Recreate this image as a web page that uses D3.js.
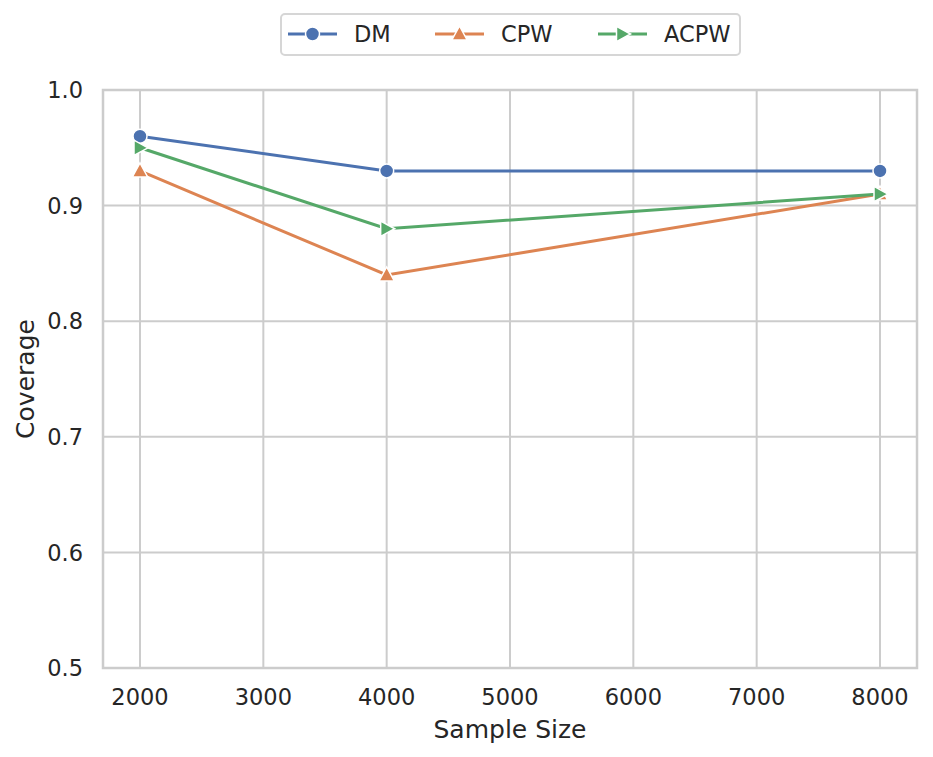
<!DOCTYPE html>
<html>
<head>
<meta charset="utf-8">
<script src="https://cdn.jsdelivr.net/npm/d3@7"></script>
<style>
  body { margin: 0; background: #fff; }
  svg { font-family: "DejaVu Sans", sans-serif; }
</style>
</head>
<body>
<svg width="933" height="757"></svg>
<script>
// data
const sampleSizes = [2000, 4000, 8000];
const dmValues = [0.96, 0.93, 0.93];
const cpwValues = [0.93, 0.84, 0.91];
const acpwValues = [0.95, 0.88, 0.91];
const xTicks = [2000, 3000, 4000, 5000, 6000, 7000, 8000];
const yTicks = [0.5, 0.6, 0.7, 0.8, 0.9, 1.0];

const series = [
  { name: 'DM', values: dmValues, color: '#4c72b0', marker: 'circle' },
  { name: 'CPW', values: cpwValues, color: '#dd8452', marker: 'up' },
  { name: 'ACPW', values: acpwValues, color: '#55a868', marker: 'right' }
];

const svg = d3.select('svg');
const margin = { top: 90, right: 16, bottom: 89, left: 103 };
const width = 933 - margin.left - margin.right;
const height = 757 - margin.top - margin.bottom;

const x = d3.scaleLinear().domain([1700, 8300]).range([0, width]);
const y = d3.scaleLinear().domain([0.5, 1.0]).range([height, 0]);

const g = svg.append('g').attr('transform', `translate(${margin.left},${margin.top})`);

// grid
g.selectAll('.gx').data(xTicks).enter().append('line')
  .attr('x1', d => x(d)).attr('x2', d => x(d))
  .attr('y1', 0).attr('y2', height)
  .attr('stroke', '#cccccc').attr('stroke-width', 2);
g.selectAll('.gy').data(yTicks).enter().append('line')
  .attr('x1', 0).attr('x2', width)
  .attr('y1', d => y(d)).attr('y2', d => y(d))
  .attr('stroke', '#cccccc').attr('stroke-width', 2);

// frame
g.append('rect').attr('width', width).attr('height', height)
  .attr('fill', 'none').attr('stroke', '#cccccc').attr('stroke-width', 2.5);

// tick labels
g.selectAll('.tx').data(xTicks).enter().append('text')
  .attr('x', d => x(d)).attr('y', height + 37)
  .attr('text-anchor', 'middle').attr('font-size', 22.5).attr('fill', '#262626')
  .text(d => d);
g.selectAll('.ty').data(yTicks).enter().append('text')
  .attr('x', -20).attr('y', d => y(d)).attr('dy', '0.36em')
  .attr('text-anchor', 'end').attr('font-size', 22.5).attr('fill', '#262626')
  .text(d => d.toFixed(1));

// axis labels
svg.append('text')
  .attr('x', margin.left + width / 2).attr('y', 738)
  .attr('text-anchor', 'middle').attr('font-size', 25).attr('fill', '#262626')
  .text('Sample Size');
svg.append('text')
  .attr('transform', `translate(34,${margin.top + height / 2}) rotate(-90)`)
  .attr('text-anchor', 'middle').attr('font-size', 25).attr('fill', '#262626')
  .text('Coverage');

function drawMarker(sel, type, color, cx, cy) {
  if (type === 'circle') {
    sel.append('circle').attr('cx', cx).attr('cy', cy).attr('r', 7)
      .attr('fill', color).attr('stroke', '#fff').attr('stroke-width', 1.5);
  } else {
    const s = 8;
    const pts = type === 'up'
      ? [[0, -s], [s * 0.95, s * 0.75], [-s * 0.95, s * 0.75]]
      : [[s, 0], [-s * 0.75, -s * 0.95], [-s * 0.75, s * 0.95]];
    sel.append('polygon')
      .attr('points', pts.map(p => [cx + p[0], cy + p[1]].join(',')).join(' '))
      .attr('fill', color).attr('stroke', '#fff').attr('stroke-width', 1.5);
  }
}

const line = d3.line().x((d, i) => x(sampleSizes[i])).y(d => y(d));

series.forEach(s => {
  g.append('path').datum(s.values)
    .attr('d', line).attr('fill', 'none')
    .attr('stroke', s.color).attr('stroke-width', 3);
});
series.forEach(s => {
  s.values.forEach((v, i) => drawMarker(g, s.marker, s.color, x(sampleSizes[i]), y(v)));
});

// legend
const legend = svg.append('g');
legend.append('rect')
  .attr('x', 281).attr('y', 14).attr('width', 459).attr('height', 41)
  .attr('rx', 4).attr('fill', '#fff').attr('stroke', '#d6d6d6').attr('stroke-width', 2);
const legendX = [288, 435, 598];
series.forEach((s, i) => {
  const lx = legendX[i];
  legend.append('line').attr('x1', lx).attr('x2', lx + 49)
    .attr('y1', 34).attr('y2', 34).attr('stroke', s.color).attr('stroke-width', 3);
  drawMarker(legend, s.marker, s.color, lx + 24.5, 34);
  legend.append('text').attr('x', lx + 66).attr('y', 34).attr('dy', '0.36em')
    .attr('font-size', 22.5).attr('fill', '#262626').text(s.name);
});
</script>
</body>
</html>
